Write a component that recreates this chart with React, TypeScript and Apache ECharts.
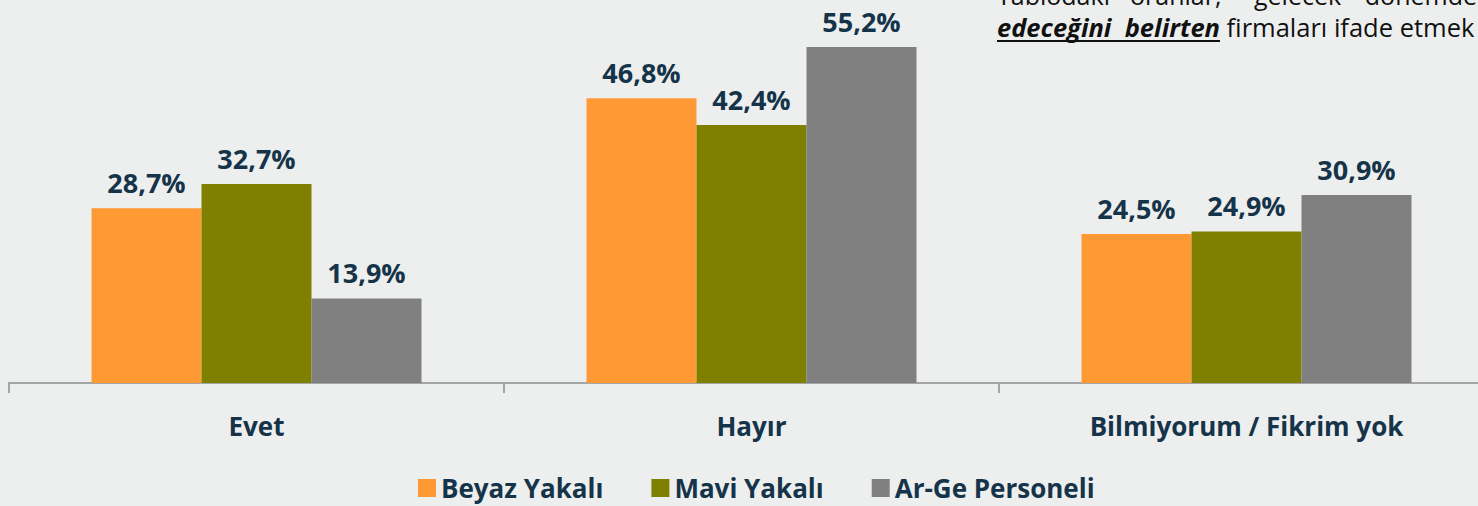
import React, { useEffect, useRef } from "react";
import * as echarts from "echarts";

const categories = ["Evet", "Hayır", "Bilmiyorum / Fikrim yok"];
const beyazYakali = [28.7, 46.8, 24.5];
const maviYakali = [32.7, 42.4, 24.9];
const arGePersoneli = [13.9, 55.2, 30.9];
const seriesNames = ["Beyaz Yakalı", "Mavi Yakalı", "Ar-Ge Personeli"];
const seriesColors = ["#FF9933", "#808000", "#808080"];
const noteLine1Words = ["Tablodaki", "oranlar,", "gelecek", "dönemde"];
const noteLine1X = [997, 1130, 1254, 1477];
const noteLine1Align = ["left", "left", "left", "right"];
const noteBold = "edeceğini  belirten";
const noteRest = " firmaları ifade etmek";

const FONT = "'Open Sans', 'Noto Sans', sans-serif";
const TEXT_COLOR = "#15344A";

export default function App() {
  const ref = useRef<HTMLDivElement>(null);
  useEffect(() => {
    if (!ref.current) return;
    const chart = echarts.init(ref.current, null, { renderer: "svg" });
    const fmt = (p: any) => Number(p.value).toFixed(1).replace(".", ",") + "%";
    const data = [beyazYakali, maviYakali, arGePersoneli];
    chart.setOption({
      animation: false,
      backgroundColor: "#EDEFEE",
      grid: {
        left: 9,
        top: 17.8,
        width: 1485,
        height: 365.2,
        containLabel: false,
        outerBoundsMode: "none",
      },
      legend: {
        left: 413,
        top: 470,
        itemWidth: 18,
        itemHeight: 18,
        itemGap: 48,
        icon: "rect",
        textStyle: { fontFamily: FONT, fontWeight: "bold", fontSize: 26, color: TEXT_COLOR },
        data: seriesNames,
      },
      xAxis: {
        type: "category",
        data: categories,
        axisLine: { lineStyle: { color: "#A3A5A7", width: 2 } },
        axisTick: { show: true, length: 10, lineStyle: { color: "#A3A5A7", width: 2 } },
        axisLabel: {
          margin: 30,
          fontFamily: FONT,
          fontWeight: "bold",
          fontSize: 26,
          color: TEXT_COLOR,
        },
      },
      yAxis: { type: "value", min: 0, max: 60, show: false, splitLine: { show: false } },
      series: seriesNames.map((name, i) => ({
        name,
        type: "bar",
        data: data[i],
        barWidth: 110,
        barGap: "0%",
        itemStyle: { color: seriesColors[i] },
        label: {
          show: true,
          position: "top",
          distance: 12,
          formatter: fmt,
          fontFamily: FONT,
          fontWeight: "bold",
          fontSize: 27,
          color: TEXT_COLOR,
        },
      })),
      graphic: [
        ...noteLine1Words.map((w, i) => ({
          type: "text",
          x: noteLine1X[i],
          y: 7,
          style: {
            text: w,
            fontFamily: FONT,
            fontSize: 25,
            fill: "#111",
            align: noteLine1Align[i],
            verticalAlign: "bottom",
          },
        })),
        {
          type: "text",
          x: 997,
          y: 27,
          style: {
            text: "{b|" + noteBold + "}{n|" + noteRest + "}",
            verticalAlign: "middle",
            rich: {
              b: { fontFamily: FONT, fontSize: 25.5, fontWeight: "bold", fontStyle: "italic", fill: "#111" },
              n: { fontFamily: FONT, fontSize: 25.5, fill: "#111" },
            },
          },
        },
        {
          type: "line",
          shape: { x1: 997, y1: 41, x2: 1220, y2: 41 },
          style: { stroke: "#111", lineWidth: 2 },
        },
      ],
    });
    return () => chart.dispose();
  }, []);
  return (
    <div
      ref={ref}
      style={{ position: "fixed", left: 0, top: 0, width: 1478, height: 506 }}
    />
  );
}
